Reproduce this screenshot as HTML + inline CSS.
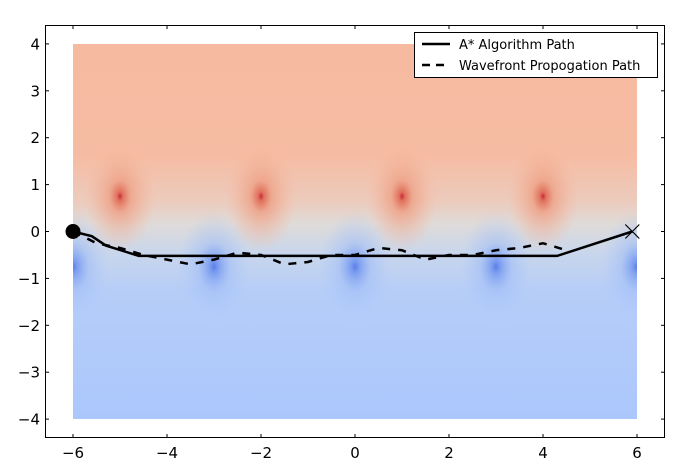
<!DOCTYPE html>
<html><head><meta charset="utf-8"><style>body{margin:0;background:#fff}svg{display:block;font-family:"DejaVu Sans","Liberation Sans",sans-serif}</style></head>
<body>
<svg id="c" width="695" height="476">
<defs>
<linearGradient id="bg" x1="0" y1="0" x2="0" y2="1">
<stop offset="0" stop-color="#f6baa0"/><stop offset="0.3" stop-color="#f6bca3"/>
<stop offset="0.42" stop-color="#eccbbd"/><stop offset="0.48" stop-color="#dfdbd9"/>
<stop offset="0.56" stop-color="#c8d6ec"/><stop offset="0.66" stop-color="#b6cdf8"/>
<stop offset="1" stop-color="#abc7fc"/></linearGradient>
<radialGradient id="rp"><stop offset="0" stop-color="#c9283a"/><stop offset="0.08" stop-color="#e0705c"/><stop offset="0.3" stop-color="#eea186" stop-opacity="0.8"/><stop offset="1" stop-color="#f6baa0" stop-opacity="0"/></radialGradient>
<radialGradient id="bp"><stop offset="0" stop-color="#5b7fe8"/><stop offset="0.12" stop-color="#7d9ef0"/><stop offset="0.45" stop-color="#9dbbf7" stop-opacity="0.5"/><stop offset="1" stop-color="#abc7fc" stop-opacity="0"/></radialGradient>
<clipPath id="pc"><rect x="73" y="44" width="564" height="375"/></clipPath>
</defs>
<g id="plot"></g>
</svg>
<script>
const peakX=[-5,-2,1,4];
const troughX=[-6,-3,0,3,6];
const aX=[-6,-5.6,-5.3,-4.6,4.3,5.9];
const aY=[0,-0.1,-0.3,-0.52,-0.52,0];
const wX=[-6,-5.5,-5,-4.5,-4,-3.5,-3,-2.5,-2,-1.5,-1,-0.5,0,0.5,1,1.5,2,2.5,3,3.5,4,4.5];
const wY=[0,-0.25,-0.35,-0.5,-0.6,-0.7,-0.6,-0.45,-0.5,-0.7,-0.65,-0.5,-0.5,-0.35,-0.4,-0.6,-0.5,-0.5,-0.4,-0.35,-0.25,-0.4];
const xTicks=[-6,-4,-2,0,2,4,6];
const yTicks=[4,3,2,1,0,-1,-2,-3,-4];
const X=v=>355+v*47, Y=v=>231.5-v*46.9;
const NS='http://www.w3.org/2000/svg', g=document.getElementById('plot');
function mk(t,a,p){const e=document.createElementNS(NS,t);for(const k in a)e.setAttribute(k,a[k]);(p||g).appendChild(e);return e;}
const field=mk('g',{'clip-path':'url(#pc)'});


mk('rect',{x:X(-6),y:Y(4),width:X(6)-X(-6),height:Y(-4)-Y(4),fill:'url(#bg)'},field);
peakX.forEach(p=>{const e=mk('ellipse',{cx:X(p),cy:Y(0.75),rx:36,ry:55,fill:'url(#rp)'},field);

});
troughX.forEach(p=>{const e=mk('ellipse',{cx:X(p),cy:Y(-0.75),rx:36,ry:55,fill:'url(#bp)'},field);

});
const pts=(xs,ys)=>xs.map((x,i)=>X(x)+','+Y(ys[i])).join(' ');
const w=mk('polyline',{points:pts(wX,wY),fill:'none',stroke:'#000','stroke-width':2.5,'stroke-dasharray':'8,8'});


const a=mk('polyline',{points:pts(aX,aY),fill:'none',stroke:'#000','stroke-width':2.5});


const s=mk('circle',{cx:X(-6),cy:Y(0),r:7.5,fill:'#000'});


const gx=X(5.9),gy=Y(0);
const goal=mk('path',{d:`M${gx-7},${gy-7}L${gx+7},${gy+7}M${gx-7},${gy+7}L${gx+7},${gy-7}`,stroke:'#000','stroke-width':1.2});


const fr=mk('rect',{x:45.5,y:25.5,width:619,height:412,fill:'none',stroke:'#000','stroke-width':1});


xTicks.forEach(t=>{const x=X(t);
mk('line',{x1:x,x2:x,y1:438,y2:434,stroke:'#000'});mk('line',{x1:x,x2:x,y1:25,y2:29,stroke:'#000'});
const e=mk('text',{x:x,y:458,'text-anchor':'middle','font-size':15});e.textContent=(t<0?'\u2212'+(-t):t);

});
yTicks.forEach(t=>{const y=Y(t);
mk('line',{x1:45,x2:49,y1:y,y2:y,stroke:'#000'});mk('line',{x1:665,x2:661,y1:y,y2:y,stroke:'#000'});
const e=mk('text',{x:40,y:y+5.5,'text-anchor':'end','font-size':15});e.textContent=(t<0?'\u2212'+(-t):t);

});
const lg=mk('g',{});


mk('rect',{x:414.5,y:32.5,width:243,height:45,fill:'#fff',stroke:'#000'},lg);
mk('line',{x1:422,x2:450,y1:44,y2:44,stroke:'#000','stroke-width':2.5},lg);
mk('line',{x1:422,x2:450,y1:65,y2:65,stroke:'#000','stroke-width':2.5,'stroke-dasharray':'8,6'},lg);
const t1=mk('text',{x:459,y:49,'font-size':13},lg);t1.textContent='A* Algorithm Path';


const t2=mk('text',{x:459,y:70,'font-size':13},lg);t2.textContent='Wavefront Propogation Path';


</script>
</body></html>
